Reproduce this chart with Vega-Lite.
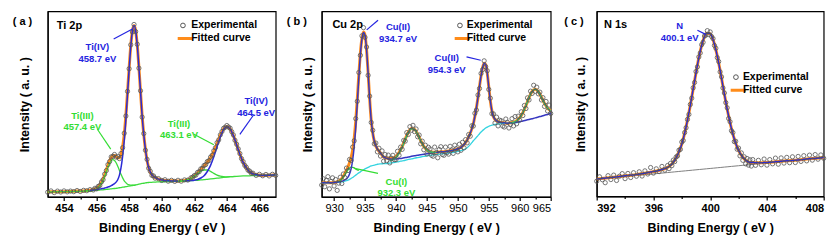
{
"$schema": "https://vega.github.io/schema/vega-lite/v6.json",
"padding": {"left": 11.7, "top": 10.4, "right": 0, "bottom": 0},
"autosize": {"type": "pad"},
"bounds": "flush",
"spacing": 46,
"resolve": {"scale": {"color": "independent"}, "legend": {"color": "independent"}},
"config": {
 "font": "Liberation Sans",
 "view": {"stroke": "#000", "strokeWidth": 1.2},
 "axis": {"grid": false, "domainColor": "#000", "domainWidth": 1.2, "tickColor": "#000", "tickWidth": 1.2, "labelFont": "Liberation Sans", "labelFontWeight": "bold", "labelFontSize": 11, "labelColor": "#000", "titleFont": "Liberation Sans", "titleFontWeight": "bold", "titleFontSize": 12.5, "titleColor": "#000"},
 "legend": {"labelFont": "Liberation Sans", "labelFontWeight": "bold", "labelFontSize": 10.5, "labelColor": "#000", "symbolSize": 400, "clipHeight": 12.7, "rowPadding": 0, "padding": 0},
 "line": {"interpolate": "monotone"},
 "text": {"font": "Liberation Sans", "fontWeight": "bold"}
},
"datasets": {
 "a": [
  {"x":453.0,"f":3.4,"b":3.4},{"x":453.2,"f":3.4,"b":3.4},{"x":453.4,"f":3.4,"b":3.4},{"x":453.6,"f":3.5,"b":3.5},{"x":453.8,"f":3.5,"b":3.5},{"x":454.0,"f":3.5,"b":3.5},{"x":454.2,"f":3.6,"b":3.5},{"x":454.4,"f":3.6,"b":3.6},{"x":454.6,"f":3.7,"b":3.6},{"x":454.8,"f":3.8,"b":3.7},{"x":455.0,"f":3.8,"b":3.7},
  {"x":455.2,"f":3.9,"b":3.8,"g1":3.8},{"x":455.4,"f":4.1,"b":3.9,"g1":3.9},
  {"x":455.6,"f":4.3,"b":4.0,"g1":4.05,"u1":4.25},{"x":455.7,"f":4.4,"b":4.0,"g1":4.1,"u1":4.3},{"x":455.8,"f":4.6,"b":4.1,"g1":4.3,"u1":4.4},{"x":455.9,"f":5.0,"b":4.2,"g1":4.6,"u1":4.55},{"x":456.0,"f":5.3,"b":4.2,"g1":4.9,"u1":4.6},{"x":456.1,"f":6.0,"b":4.3,"g1":5.5,"u1":4.75},{"x":456.2,"f":7.0,"b":4.4,"g1":6.5,"u1":4.9},{"x":456.3,"f":8.4,"b":4.5,"g1":7.8,"u1":5.1},{"x":456.4,"f":10.2,"b":4.5,"g1":9.5,"u1":5.2},{"x":456.5,"f":12.6,"b":4.6,"g1":11.7,"u1":5.45},{"x":456.6,"f":15.1,"b":4.7,"g1":14.1,"u1":5.7},{"x":456.7,"f":17.7,"b":4.8,"g1":16.5,"u1":6.0},{"x":456.8,"f":20.0,"b":4.9,"g1":18.6,"u1":6.3},{"x":456.9,"f":21.7,"b":5.0,"g1":20.0,"u1":6.7},{"x":457.0,"f":22.7,"b":5.1,"g1":20.6,"u1":7.2},{"x":457.1,"f":22.8,"b":5.2,"g1":20.2,"u1":7.8},{"x":457.2,"f":22.3,"b":5.3,"g1":19.0,"u1":8.6},{"x":457.3,"f":21.6,"b":5.4,"g1":17.1,"u1":9.9},{"x":457.4,"f":21.6,"b":5.6,"g1":15.0,"u1":12.2},{"x":457.5,"f":23.3,"b":5.7,"g1":12.8,"u1":16.2},{"x":457.6,"f":27.4,"b":5.9,"g1":10.9,"u1":22.4},{"x":457.7,"f":34.1,"b":6.0,"g1":9.3,"u1":30.8},{"x":457.8,"f":44.3,"b":6.2,"g1":8.3,"u1":42.2},{"x":457.9,"f":56.7,"b":6.3,"g1":7.5,"u1":55.5},{"x":458.0,"f":69.8,"b":6.5,"g1":7.2,"u1":69.1},{"x":458.1,"f":81.5,"b":6.6,"g1":7.0,"u1":81.1},{"x":458.2,"f":89.6,"b":6.8,"g1":7.0,"u1":89.4},{"x":458.3,"f":92.4,"b":6.9,"g1":6.95,"u1":92.4},{"x":458.4,"f":89.7,"b":7.1,"g1":7.1,"u1":89.7},{"x":458.5,"f":81.8,"b":7.3,"u1":81.8},{"x":458.6,"f":70.1,"b":7.5,"u1":70.1},{"x":458.7,"f":56.9,"b":7.7,"u1":56.9},{"x":458.8,"f":43.9,"b":7.9,"u1":43.9},{"x":458.9,"f":34.0,"b":8.0,"u1":34.0},{"x":459.0,"f":26.2,"b":8.2,"u1":26.2},{"x":459.1,"f":20.3,"b":8.3,"u1":20.3},{"x":459.2,"f":16.4,"b":8.4,"u1":16.4},{"x":459.3,"f":14.0,"b":8.5,"u1":14.0},{"x":459.4,"f":12.5,"b":8.5,"u1":12.5},{"x":459.5,"f":11.6,"b":8.6,"u1":11.6},{"x":459.6,"f":11.0,"b":8.6,"u1":11.0},{"x":459.7,"f":10.6,"b":8.7,"u1":10.6},{"x":459.8,"f":10.2,"b":8.7,"u1":10.2},
  {"x":460.0,"f":9.8,"b":8.8,"u1":9.8},{"x":460.2,"f":9.5,"b":8.8,"u1":9.5},{"x":460.4,"f":9.4,"b":8.9,"u1":9.4},{"x":460.6,"f":9.3,"b":8.9,"u1":9.25},{"x":460.8,"f":9.3,"b":9.0,"u1":9.25},{"x":461.0,"f":9.2,"b":9.0,"u1":9.2,"g2":9.0},{"x":461.2,"f":9.3,"b":9.1,"g2":9.2},{"x":461.4,"f":9.5,"b":9.2,"g2":9.4,"u2":9.2},{"x":461.6,"f":9.9,"b":9.3,"g2":9.9,"u2":9.3},{"x":461.8,"f":10.7,"b":9.4,"g2":10.6,"u2":9.45},{"x":462.0,"f":11.9,"b":9.5,"g2":11.7,"u2":9.65},{"x":462.2,"f":13.5,"b":9.6,"g2":13.1,"u2":10.0},{"x":462.4,"f":15.4,"b":9.8,"g2":14.4,"u2":10.8},{"x":462.6,"f":17.2,"b":9.9,"g2":15.1,"u2":12.0},{"x":462.8,"f":19.3,"b":10.1,"g2":15.1,"u2":14.3},{"x":463.0,"f":21.7,"b":10.3,"g2":14.4,"u2":17.6},{"x":463.2,"f":25.0,"b":10.5,"g2":13.3,"u2":22.2},{"x":463.4,"f":29.3,"b":10.7,"g2":12.4,"u2":27.6},{"x":463.6,"f":33.7,"b":10.9,"g2":11.8,"u2":32.8},{"x":463.8,"f":37.1,"b":11.1,"g2":11.5,"u2":36.7},{"x":464.0,"f":38.4,"b":11.3,"g2":11.4,"u2":38.3},{"x":464.2,"f":37.1,"b":11.5,"g2":11.5,"u2":37.1},{"x":464.4,"f":33.5,"b":11.6,"g2":11.6,"u2":33.5},{"x":464.6,"f":28.6,"b":11.7,"u2":28.6},{"x":464.8,"f":23.5,"b":11.8,"u2":23.5},{"x":465.0,"f":19.2,"b":11.9,"u2":19.2},{"x":465.2,"f":16.2,"b":12.0,"u2":16.2},{"x":465.4,"f":14.1,"b":12.0,"u2":14.1},{"x":465.6,"f":13.1,"b":12.1,"u2":13.1},{"x":465.8,"f":12.5,"b":12.1,"u2":12.5},{"x":466.0,"f":12.4,"b":12.2,"u2":12.35},{"x":466.2,"f":12.2,"b":12.2,"u2":12.2},{"x":466.4,"f":12.3,"b":12.3,"u2":12.3},{"x":466.6,"f":12.3,"b":12.3,"u2":12.3},{"x":466.8,"f":12.4,"b":12.4,"u2":12.4},{"x":467.0,"f":12.4,"b":12.4,"u2":12.4}
 ],
 "ae": [
  {"x":453.0,"y":3.2},{"x":453.2,"y":3.9},{"x":453.4,"y":3.0},{"x":453.6,"y":3.8},{"x":453.8,"y":3.3},{"x":454.0,"y":3.9},{"x":454.2,"y":3.4},{"x":454.4,"y":3.8},{"x":454.6,"y":3.5},{"x":454.8,"y":4.1},{"x":455.0,"y":3.6},{"x":455.2,"y":4.2},{"x":455.4,"y":4.0},{"x":455.6,"y":4.6},{"x":455.8,"y":4.4},{"x":455.9,"y":5.3},{"x":456.0,"y":5.0},{"x":456.1,"y":6.3},{"x":456.2,"y":6.8},{"x":456.3,"y":8.7},{"x":456.4,"y":9.9},{"x":456.5,"y":12.9},{"x":456.6,"y":14.8},{"x":456.7,"y":18.0},{"x":456.8,"y":19.6},{"x":456.9,"y":22.1},{"x":457.0,"y":22.4},{"x":457.1,"y":23.4},{"x":457.2,"y":22.0},{"x":457.3,"y":22.3},{"x":457.4,"y":21.2},{"x":457.5,"y":23.9},{"x":457.6,"y":27.0},{"x":457.7,"y":34.8},{"x":457.8,"y":44.0},{"x":457.9,"y":57.2},{"x":458.0,"y":69.3},{"x":458.1,"y":82.1},{"x":458.2,"y":89.0},{"x":458.3,"y":93.0},{"x":458.4,"y":89.2},{"x":458.5,"y":82.4},{"x":458.6,"y":69.6},{"x":458.7,"y":57.5},{"x":458.8,"y":43.4},{"x":458.9,"y":34.6},{"x":459.0,"y":25.7},{"x":459.1,"y":20.8},{"x":459.2,"y":16.0},{"x":459.3,"y":14.4},{"x":459.4,"y":12.2},{"x":459.5,"y":11.9},{"x":459.6,"y":10.7},{"x":459.8,"y":10.5},{"x":460.0,"y":9.5},{"x":460.2,"y":9.9},{"x":460.4,"y":9.1},{"x":460.6,"y":9.6},{"x":460.8,"y":9.0},{"x":461.0,"y":9.6},{"x":461.2,"y":9.1},{"x":461.4,"y":9.8},{"x":461.6,"y":9.7},{"x":461.8,"y":10.9},{"x":461.9,"y":11.2},{"x":462.0,"y":12.1},{"x":462.1,"y":12.4},{"x":462.2,"y":13.8},{"x":462.3,"y":14.2},{"x":462.4,"y":15.7},{"x":462.5,"y":16.0},{"x":462.6,"y":17.5},{"x":462.7,"y":18.0},{"x":462.8,"y":19.6},{"x":462.9,"y":20.1},{"x":463.0,"y":22.0},{"x":463.1,"y":23.0},{"x":463.2,"y":25.4},{"x":463.3,"y":27.0},{"x":463.4,"y":29.7},{"x":463.5,"y":31.2},{"x":463.6,"y":33.9},{"x":463.7,"y":35.7},{"x":463.8,"y":37.4},{"x":463.9,"y":38.0},{"x":464.0,"y":38.9},{"x":464.1,"y":38.1},{"x":464.2,"y":37.5},{"x":464.3,"y":35.6},{"x":464.4,"y":33.9},{"x":464.5,"y":31.0},{"x":464.6,"y":28.9},{"x":464.7,"y":26.4},{"x":464.8,"y":23.9},{"x":464.9,"y":21.2},{"x":465.0,"y":19.6},{"x":465.1,"y":17.6},{"x":465.2,"y":16.5},{"x":465.3,"y":15.0},{"x":465.4,"y":14.5},{"x":465.5,"y":13.4},{"x":465.6,"y":13.4},{"x":465.8,"y":12.2},{"x":466.0,"y":12.8},{"x":466.2,"y":12.0},{"x":466.4,"y":12.7},{"x":466.6,"y":11.9},{"x":466.8,"y":12.8},{"x":467.0,"y":12.2}
 ],
 "b": [
  {"x":928.0,"f":10.2,"u":10.2,"c":10.2},{"x":928.5,"f":10.2,"u":10.2,"c":10.2},{"x":929.0,"f":10.2,"u":10.2,"c":10.2},{"x":929.5,"f":10.25,"u":10.25,"c":10.25},{"x":930.0,"f":10.3,"u":10.3,"c":10.3},{"x":930.5,"f":10.8,"u":10.5,"c":10.4,"g":10.7},{"x":931.0,"f":11.6,"u":10.8,"c":10.5,"g":11.3},{"x":931.5,"f":13.6,"u":11.3,"c":10.8,"g":13.1},{"x":932.0,"f":16.8,"u":12.3,"c":11.3,"g":15.8},{"x":932.25,"f":18.6,"u":13.2,"c":11.6,"g":17.0},{"x":932.5,"f":20.75,"u":14.8,"c":12.0,"g":17.95},{"x":932.75,"f":23.4,"u":17.5,"c":12.5,"g":18.4},{"x":933.0,"f":27.3,"u":22.0,"c":13.0,"g":18.3},{"x":933.25,"f":33.5,"u":29.1,"c":13.6,"g":18.0},{"x":933.5,"f":42.4,"u":39.2,"c":14.2,"g":17.4},{"x":933.75,"f":54.0,"u":51.8,"c":14.8,"g":17.0},{"x":934.0,"f":66.7,"u":65.4,"c":15.4,"g":16.7},{"x":934.25,"f":78.2,"u":77.4,"c":15.9},{"x":934.5,"f":85.8,"u":85.5,"c":16.5,"g":16.8},{"x":934.75,"f":89.2,"u":89.0,"c":17.0},{"x":935.0,"f":87.6,"u":87.5,"c":17.5,"g":17.6},{"x":935.25,"f":79.9,"u":79.9,"c":17.9},{"x":935.5,"f":67.8,"u":67.8,"c":18.3},{"x":935.75,"f":54.2,"u":54.2,"c":18.7},{"x":936.0,"f":43.0,"u":43.0,"c":19.0},{"x":936.25,"f":36.3,"u":36.3,"c":19.25},{"x":936.5,"f":32.0,"u":32.0,"c":19.5},{"x":936.75,"f":29.5,"u":29.5,"c":19.7},{"x":937.0,"f":27.9,"u":27.9,"c":19.9},{"x":937.5,"f":25.8,"u":25.8,"c":20.1},{"x":938.0,"f":23.7,"u":23.7,"c":20.2},{"x":938.5,"f":23.15,"u":23.05,"c":20.3},{"x":939.0,"f":22.9,"u":22.6,"c":20.5,"s":21.7},{"x":939.5,"f":23.05,"u":22.55,"c":20.7,"s":22.25},{"x":940.0,"f":24.0,"u":22.6,"c":21.0,"s":23.5},{"x":940.5,"f":26.05,"u":22.85,"c":21.3,"s":25.65},{"x":941.0,"f":29.1,"u":23.1,"c":21.7,"s":28.8},{"x":941.5,"f":33.1,"u":23.4,"c":22.0,"s":32.85},{"x":942.0,"f":36.7,"u":23.7,"c":22.4,"s":36.5},{"x":942.5,"f":38.7,"u":24.05,"c":22.7,"s":38.5},{"x":943.0,"f":38.25,"u":24.35,"c":23.1,"s":38.1},{"x":943.5,"f":35.7,"u":24.6,"c":23.4,"s":35.6},{"x":944.0,"f":32.3,"u":24.9,"c":23.7,"s":32.2},{"x":944.5,"f":29.3,"u":25.1,"c":24.0,"s":29.3},{"x":945.0,"f":27.4,"u":25.4,"c":24.3,"s":27.4},{"x":945.5,"f":26.45,"u":25.65,"c":24.5,"s":26.45},{"x":946.0,"f":26.2,"u":25.9,"c":24.8,"s":26.2},{"x":946.5,"f":26.2,"u":26.1,"c":25.0,"s":26.2},{"x":947.0,"f":26.3,"u":26.3,"c":25.2},{"x":947.5,"f":26.45,"u":26.45,"c":25.4},{"x":948.0,"f":26.6,"u":26.6,"c":25.6},{"x":948.5,"f":26.9,"u":26.85,"c":25.8},{"x":949.0,"f":27.1,"u":27.1,"c":26.0},{"x":949.5,"f":27.5,"u":27.5,"c":26.3},{"x":950.0,"f":28.0,"u":28.0,"c":26.6},{"x":950.5,"f":28.8,"u":28.8,"c":27.0},{"x":951.0,"f":30.2,"u":30.2,"c":27.6},{"x":951.5,"f":32.6,"u":32.6,"c":28.6},{"x":952.0,"f":36.1,"u":36.1,"c":30.2},{"x":952.25,"f":38.45,"u":38.45,"c":31.2},{"x":952.5,"f":41.1,"u":41.1,"c":32.2},{"x":952.75,"f":45.05,"u":45.05,"c":33.1},{"x":953.0,"f":49.5,"u":49.5,"c":34.0},{"x":953.25,"f":54.9,"u":54.9,"c":34.9},{"x":953.5,"f":60.8,"u":60.8,"c":35.9},{"x":953.75,"f":66.3,"u":66.3,"c":36.8},{"x":954.0,"f":70.6,"u":70.6,"c":37.6},{"x":954.25,"f":72.85,"u":72.85,"c":38.25},{"x":954.5,"f":72.1,"u":72.1,"c":38.9},{"x":954.75,"f":67.65,"u":67.65,"c":39.35},{"x":955.0,"f":60.3,"u":60.3,"c":39.8},{"x":955.25,"f":53.1,"u":53.1,"c":40.1},{"x":955.5,"f":47.9,"u":47.9,"c":40.4},{"x":955.75,"f":44.8,"u":44.8,"c":40.6},{"x":956.0,"f":43.4,"u":43.4,"c":40.8},{"x":956.5,"f":42.2,"u":42.2,"c":41.0},{"x":957.0,"f":41.8,"u":41.8,"c":41.2},{"x":957.5,"f":41.6,"u":41.6,"c":41.3},{"x":958.0,"f":41.4,"u":41.4,"c":41.4},{"x":958.5,"f":41.6,"u":41.5,"c":41.5,"s":41.6},{"x":959.0,"f":41.9,"u":41.6,"c":41.6,"s":41.9},{"x":959.5,"f":42.7,"u":41.9,"c":41.7,"s":42.7},{"x":960.0,"f":44.3,"u":42.3,"c":41.8,"s":44.3},{"x":960.5,"f":46.9,"u":42.6,"s":46.9},{"x":961.0,"f":50.6,"u":43.0,"s":50.6},{"x":961.5,"f":54.8,"u":43.4,"s":54.8},{"x":962.0,"f":58.1,"u":43.8,"s":58.1},{"x":962.5,"f":59.25,"u":44.2,"s":59.25},{"x":963.0,"f":58.0,"u":44.7,"s":58.0},{"x":963.5,"f":55.0,"u":45.1,"s":55.0},{"x":964.0,"f":51.8,"u":45.6,"s":51.8},{"x":964.5,"f":49.3,"u":46.0,"s":49.3},{"x":965.0,"f":47.95,"u":46.5,"s":47.95}
 ],
 "be": [
  {"x":928.0,"y":9.0},{"x":928.25,"y":12.3},{"x":928.5,"y":8.1},{"x":928.75,"y":11.5},{"x":929.0,"y":13.4},{"x":929.25,"y":7.0},{"x":929.5,"y":10.9},{"x":929.75,"y":12.8},{"x":930.0,"y":8.5},{"x":930.25,"y":11.9},{"x":930.5,"y":6.2},{"x":930.75,"y":10.0},{"x":931.0,"y":13.1},{"x":931.25,"y":9.8},{"x":931.5,"y":14.8},{"x":931.75,"y":12.9},{"x":932.0,"y":17.9},{"x":932.25,"y":16.6},{"x":932.5,"y":22.4},{"x":932.75,"y":21.9},{"x":933.0,"y":28.9},{"x":933.25,"y":32.2},{"x":933.5,"y":43.8},{"x":933.75,"y":52.9},{"x":934.0,"y":68.0},{"x":934.25,"y":77.0},{"x":934.5,"y":87.2},{"x":934.75,"y":91.5},{"x":935.0,"y":86.4},{"x":935.25,"y":81.3},{"x":935.5,"y":66.5},{"x":935.75,"y":55.6},{"x":936.0,"y":41.8},{"x":936.25,"y":37.7},{"x":936.5,"y":30.6},{"x":936.75,"y":31.0},{"x":937.0,"y":26.4},{"x":937.25,"y":28.3},{"x":937.5,"y":24.2},{"x":937.75,"y":26.9},{"x":938.0,"y":21.5},{"x":938.25,"y":25.0},{"x":938.5,"y":21.8},{"x":938.75,"y":24.7},{"x":939.0,"y":20.6},{"x":939.25,"y":23.1},{"x":939.5,"y":24.6},{"x":939.75,"y":22.3},{"x":940.0,"y":22.3},{"x":940.25,"y":26.7},{"x":940.5,"y":24.6},{"x":940.75,"y":28.9},{"x":941.0,"y":27.7},{"x":941.25,"y":32.4},{"x":941.5,"y":32.0},{"x":941.75,"y":36.5},{"x":942.0,"y":35.5},{"x":942.25,"y":39.6},{"x":942.5,"y":37.7},{"x":942.75,"y":40.3},{"x":943.0,"y":37.0},{"x":943.25,"y":38.4},{"x":943.5,"y":34.3},{"x":943.75,"y":35.2},{"x":944.0,"y":30.6},{"x":944.25,"y":32.0},{"x":944.5,"y":27.5},{"x":944.75,"y":29.9},{"x":945.0,"y":25.3},{"x":945.25,"y":28.8},{"x":945.5,"y":27.9},{"x":945.75,"y":24.6},{"x":946.0,"y":24.1},{"x":946.25,"y":28.9},{"x":946.5,"y":26.0},{"x":946.75,"y":23.3},{"x":947.0,"y":27.6},{"x":947.25,"y":29.1},{"x":947.5,"y":25.0},{"x":947.75,"y":24.6},{"x":948.0,"y":28.9},{"x":948.25,"y":26.0},{"x":948.5,"y":25.2},{"x":948.75,"y":29.3},{"x":949.0,"y":27.4},{"x":949.25,"y":25.6},{"x":949.5,"y":29.9},{"x":949.75,"y":28.0},{"x":950.0,"y":26.4},{"x":950.25,"y":30.4},{"x":950.5,"y":27.2},{"x":950.75,"y":31.4},{"x":951.0,"y":28.5},{"x":951.25,"y":32.8},{"x":951.5,"y":31.1},{"x":951.75,"y":35.5},{"x":952.0,"y":34.6},{"x":952.25,"y":40.1},{"x":952.5,"y":39.9},{"x":952.75,"y":46.6},{"x":953.0,"y":48.3},{"x":953.25,"y":56.2},{"x":953.5,"y":59.6},{"x":953.75,"y":67.5},{"x":954.0,"y":69.5},{"x":954.25,"y":74.1},{"x":954.5,"y":71.0},{"x":954.75,"y":68.9},{"x":955.0,"y":59.1},{"x":955.25,"y":54.5},{"x":955.5,"y":46.4},{"x":955.75,"y":46.3},{"x":956.0,"y":41.5},{"x":956.25,"y":44.6},{"x":956.5,"y":40.0},{"x":956.75,"y":43.0},{"x":957.0,"y":42.7},{"x":957.25,"y":39.9},{"x":957.5,"y":39.4},{"x":957.75,"y":43.6},{"x":958.0,"y":41.9},{"x":958.25,"y":38.9},{"x":958.5,"y":40.8},{"x":958.75,"y":43.8},{"x":959.0,"y":40.0},{"x":959.25,"y":44.9},{"x":959.5,"y":41.1},{"x":959.75,"y":45.1},{"x":960.0,"y":43.0},{"x":960.25,"y":47.4},{"x":960.5,"y":45.4},{"x":960.75,"y":50.7},{"x":961.0,"y":49.1},{"x":961.25,"y":54.7},{"x":961.5,"y":53.6},{"x":961.75,"y":58.2},{"x":962.0,"y":57.0},{"x":962.25,"y":61.3},{"x":962.5,"y":58.1},{"x":962.75,"y":60.3},{"x":963.0,"y":56.8},{"x":963.25,"y":57.7},{"x":963.5,"y":53.6},{"x":963.75,"y":54.8},{"x":964.0,"y":50.2},{"x":964.25,"y":52.8},{"x":964.5,"y":47.8},{"x":964.75,"y":50.9},{"x":965.0,"y":46.5}
 ],
 "c": [
  {"x":392,"f":9.4,"b":9.2},{"x":392.5,"f":9.8,"b":9.57},{"x":393,"f":10.2,"b":9.94},{"x":393.5,"f":10.6,"b":10.31},{"x":394,"f":11.1,"b":10.68},{"x":394.5,"f":11.5,"b":11.04},{"x":395,"f":12.1,"b":11.41},{"x":395.5,"f":12.7,"b":11.78},{"x":396,"f":13.4,"b":12.15},{"x":396.5,"f":14.3,"b":12.52},{"x":397,"f":15.7,"b":12.89},{"x":397.25,"f":17.1,"b":13.07},{"x":397.5,"f":19.5,"b":13.26},{"x":397.75,"f":23.2,"b":13.44},{"x":398,"f":28.3,"b":13.63},{"x":398.25,"f":35.8,"b":13.81},{"x":398.5,"f":45.2,"b":13.99},{"x":398.75,"f":55.8,"b":14.18},{"x":399,"f":66.8,"b":14.36},{"x":399.25,"f":76.8,"b":14.55},{"x":399.5,"f":84.3,"b":14.73},{"x":399.75,"f":88.2,"b":14.92},{"x":400,"f":88.0,"b":15.1},{"x":400.25,"f":83.6,"b":15.28},{"x":400.5,"f":75.9,"b":15.47},{"x":400.75,"f":66.0,"b":15.65},{"x":401,"f":55.3,"b":15.84},{"x":401.25,"f":45.2,"b":16.02},{"x":401.5,"f":36.6,"b":16.21},{"x":401.75,"f":29.8,"b":16.39},{"x":402,"f":24.9,"b":16.58},{"x":402.25,"f":21.7,"b":16.76},{"x":402.5,"f":19.6,"b":16.94},{"x":402.75,"f":18.5,"b":17.13},{"x":403,"f":18.3,"b":17.31},{"x":403.5,"f":18.2,"b":17.68},{"x":404,"f":18.35,"b":18.05},{"x":404.5,"f":18.6,"b":18.42},{"x":405,"f":18.95,"b":18.79},{"x":405.5,"f":19.3,"b":19.16},{"x":406,"f":19.6,"b":19.53},{"x":406.5,"f":19.95,"b":19.9},{"x":407,"f":20.3,"b":20.26},{"x":407.5,"f":20.65,"b":20.63},{"x":408,"f":21.0,"b":21.0}
 ],
 "ce": [
  {"x":392.0,"y":8.2},{"x":392.2,"y":10.6},{"x":392.4,"y":9.0},{"x":392.6,"y":7.4},{"x":392.8,"y":11.2},{"x":393.0,"y":9.1},{"x":393.2,"y":11.5},{"x":393.4,"y":8.6},{"x":393.6,"y":10.9},{"x":393.8,"y":12.3},{"x":394.0,"y":9.6},{"x":394.2,"y":12.4},{"x":394.4,"y":10.2},{"x":394.6,"y":12.8},{"x":394.8,"y":10.9},{"x":395.0,"y":13.3},{"x":395.2,"y":11.0},{"x":395.4,"y":13.8},{"x":395.6,"y":12.1},{"x":395.8,"y":15.6},{"x":396.0,"y":12.6},{"x":396.2,"y":14.9},{"x":396.4,"y":13.4},{"x":396.6,"y":16.2},{"x":396.8,"y":14.2},{"x":397.0,"y":16.7},{"x":397.1,"y":15.0},{"x":397.2,"y":17.8},{"x":397.3,"y":16.6},{"x":397.4,"y":19.6},{"x":397.5,"y":18.8},{"x":397.6,"y":21.3},{"x":397.7,"y":21.9},{"x":397.8,"y":25.0},{"x":397.9,"y":25.4},{"x":398.0,"y":29.4},{"x":398.1,"y":30.2},{"x":398.2,"y":34.5},{"x":398.3,"y":37.1},{"x":398.4,"y":41.6},{"x":398.5,"y":44.3},{"x":398.6,"y":49.7},{"x":398.7,"y":53.1},{"x":398.8,"y":58.7},{"x":398.9,"y":61.6},{"x":399.0,"y":67.5},{"x":399.1,"y":70.0},{"x":399.2,"y":75.4},{"x":399.3,"y":77.5},{"x":399.4,"y":82.0},{"x":399.5,"y":83.3},{"x":399.6,"y":86.7},{"x":399.7,"y":87.2},{"x":399.8,"y":89.6},{"x":399.9,"y":87.5},{"x":400.0,"y":88.9},{"x":400.1,"y":86.4},{"x":400.2,"y":85.3},{"x":400.3,"y":81.6},{"x":400.4,"y":80.1},{"x":400.5,"y":75.0},{"x":400.6,"y":72.9},{"x":400.7,"y":67.3},{"x":400.8,"y":64.6},{"x":400.9,"y":58.6},{"x":401.0,"y":55.9},{"x":401.1,"y":50.7},{"x":401.2,"y":47.9},{"x":401.3,"y":42.1},{"x":401.4,"y":40.4},{"x":401.5,"y":35.5},{"x":401.6,"y":34.5},{"x":401.7,"y":29.6},{"x":401.8,"y":29.8},{"x":401.9,"y":25.5},{"x":402.0,"y":26.1},{"x":402.1,"y":21.9},{"x":402.2,"y":23.5},{"x":402.3,"y":19.5},{"x":402.4,"y":21.4},{"x":402.5,"y":17.6},{"x":402.6,"y":20.5},{"x":402.7,"y":16.9},{"x":402.8,"y":19.8},{"x":402.9,"y":16.4},{"x":403.0,"y":19.9},{"x":403.2,"y":16.8},{"x":403.4,"y":19.5},{"x":403.6,"y":17.1},{"x":403.8,"y":20.2},{"x":404.0,"y":16.9},{"x":404.2,"y":19.9},{"x":404.4,"y":17.6},{"x":404.6,"y":20.7},{"x":404.8,"y":17.4},{"x":405.0,"y":20.8},{"x":405.2,"y":18.0},{"x":405.4,"y":21.1},{"x":405.6,"y":18.2},{"x":405.8,"y":21.4},{"x":406.0,"y":18.3},{"x":406.2,"y":21.6},{"x":406.4,"y":18.9},{"x":406.6,"y":22.0},{"x":406.8,"y":19.2},{"x":407.0,"y":22.3},{"x":407.2,"y":19.6},{"x":407.4,"y":22.6},{"x":407.6,"y":20.1},{"x":407.8,"y":22.4},{"x":408.0,"y":20.6}
 ]
},
"hconcat": [
 {
  "width": 228, "height": 185.5,
  "title": {"text": "( a )", "anchor": "start", "frame": "group", "offset": 0, "dx": -35, "dy": 21.8, "baseline": "middle", "fontSize": 11, "fontWeight": "bold", "font": "Liberation Sans", "color": "#000"},
  "resolve": {"axis": {"x": "independent"}},
  "layer": [
   {"data": {"name": "a"}, "mark": {"type": "line", "strokeWidth": 3},
    "encoding": {
     "x": {"field": "x", "type": "quantitative", "scale": {"domain": [453, 467], "nice": false, "zero": false}, "axis": {"orient": "bottom", "title": "Binding Energy ( eV )", "values": [454, 456, 458, 460, 462, 464, 466], "format": "d", "tickSize": 3.5, "labelPadding": 2.5, "titlePadding": 8, "labelOverlap": false}},
     "y": {"field": "f", "type": "quantitative", "scale": {"domain": [0.7, 100], "nice": false, "zero": false}, "axis": {"title": "Intensity ( a. u. )", "labels": false, "ticks": false, "titlePadding": 16}},
     "color": {"datum": "Fitted curve", "type": "nominal", "scale": {"domain": ["Experimental", "Fitted curve"], "range": ["#555555", "#ff8c1a"]},
      "legend": {"title": null, "orient": "none", "legendX": 130, "legendY": 7.7, "labelOffset": 3,
       "encode": {"symbols": {"update": {"shape": {"signal": "datum.value === 'Experimental' ? 'circle' : 'stroke'"}, "size": {"signal": "datum.value === 'Experimental' ? 22 : 400"}, "stroke": {"signal": "datum.value === 'Experimental' ? '#555555' : '#ff8c1a'"}, "strokeWidth": {"signal": "datum.value === 'Experimental' ? 1 : 3"}, "fill": {"value": "transparent"}, "opacity": {"value": 1}}}}}}
    }},
   {"data": {"name": "a"}, "mark": {"type": "line", "color": "#3ddc3d", "strokeWidth": 1.3},
    "encoding": {"x": {"field": "x", "type": "quantitative", "axis": {"orient": "bottom", "values": [455, 457, 459, 461, 463, 465], "labels": false, "title": null, "tickSize": 2, "domain": false}}, "y": {"field": "b", "type": "quantitative"}}},
   {"data": {"name": "a"}, "mark": {"type": "line", "color": "#3ddc3d", "strokeWidth": 1.3},
    "encoding": {"x": {"field": "x", "type": "quantitative", "axis": null}, "y": {"field": "g1", "type": "quantitative"}}},
   {"data": {"name": "a"}, "mark": {"type": "line", "color": "#3ddc3d", "strokeWidth": 1.3},
    "encoding": {"x": {"field": "x", "type": "quantitative", "axis": null}, "y": {"field": "g2", "type": "quantitative"}}},
   {"data": {"name": "a"}, "mark": {"type": "line", "color": "#2b2bd6", "strokeWidth": 1.5},
    "encoding": {"x": {"field": "x", "type": "quantitative", "axis": null}, "y": {"field": "u1", "type": "quantitative"}}},
   {"data": {"name": "a"}, "mark": {"type": "line", "color": "#2b2bd6", "strokeWidth": 1.5},
    "encoding": {"x": {"field": "x", "type": "quantitative", "axis": null}, "y": {"field": "u2", "type": "quantitative"}}},
   {"data": {"name": "ae"}, "mark": {"type": "point", "filled": false, "size": 18, "strokeWidth": 0.8, "opacity": 1},
    "encoding": {"x": {"field": "x", "type": "quantitative", "axis": null}, "y": {"field": "y", "type": "quantitative"}, "color": {"datum": "Experimental", "type": "nominal"}}},
   {"data": {"values": [{"x": 457.05, "y": 85.2, "x2": 458.2, "y2": 90.6}, {"x": 465.66, "y": 44.8, "x2": 464.8, "y2": 34.2}]}, "mark": {"type": "rule", "color": "#2424e0", "strokeWidth": 1.2},
    "encoding": {"x": {"field": "x", "type": "quantitative", "axis": null}, "y": {"field": "y", "type": "quantitative"}, "x2": {"field": "x2"}, "y2": {"field": "y2"}}},
   {"data": {"values": [{"x": 456.05, "y": 36.9, "x2": 456.87, "y2": 26.3}, {"x": 461.98, "y": 34.2, "x2": 463.2, "y2": 28.6}]}, "mark": {"type": "rule", "color": "#33dd33", "strokeWidth": 1.2},
    "encoding": {"x": {"field": "x", "type": "quantitative", "axis": null}, "y": {"field": "y", "type": "quantitative"}, "x2": {"field": "x2"}, "y2": {"field": "y2"}}},
   {"data": {"values": [{"x": 456.05, "y": 81.2, "t": "Ti(IV)\n458.7 eV"}, {"x": 465.8, "y": 51.9, "t": "Ti(IV)\n464.5 eV"}]}, "mark": {"type": "text", "color": "#2424e0", "fontSize": 9.5, "lineBreak": "\n", "lineHeight": 12, "align": "center", "baseline": "middle"},
    "encoding": {"x": {"field": "x", "type": "quantitative", "axis": null}, "y": {"field": "y", "type": "quantitative"}, "text": {"field": "t"}}},
   {"data": {"values": [{"x": 455.13, "y": 44.2, "t": "Ti(III)\n457.4 eV"}, {"x": 461.06, "y": 39.8, "t": "Ti(III)\n463.1 eV"}]}, "mark": {"type": "text", "color": "#33dd33", "fontSize": 9.5, "lineBreak": "\n", "lineHeight": 11.5, "align": "center", "baseline": "middle"},
    "encoding": {"x": {"field": "x", "type": "quantitative", "axis": null}, "y": {"field": "y", "type": "quantitative"}, "text": {"field": "t"}}},
   {"data": {"values": [{"x": 453.55, "y": 92.2, "t": "Ti 2p"}]}, "mark": {"type": "text", "color": "#000", "fontSize": 11, "align": "left", "baseline": "middle"},
    "encoding": {"x": {"field": "x", "type": "quantitative", "axis": null}, "y": {"field": "y", "type": "quantitative"}, "text": {"field": "t"}}}
  ]
 },
 {
  "width": 229, "height": 185.5,
  "title": {"text": "( b )", "anchor": "start", "frame": "group", "offset": 0, "dx": -35, "dy": 21.2, "baseline": "middle", "fontSize": 11, "fontWeight": "bold", "font": "Liberation Sans", "color": "#000"},
  "resolve": {"axis": {"x": "independent"}},
  "layer": [
   {"data": {"name": "b"}, "mark": {"type": "line", "strokeWidth": 3},
    "encoding": {
     "x": {"field": "x", "type": "quantitative", "scale": {"domain": [928, 965], "nice": false, "zero": false}, "axis": {"orient": "bottom", "title": "Binding Energy ( eV )", "values": [930, 935, 940, 945, 950, 955, 960, 965], "format": "d", "tickSize": 3.5, "labelPadding": 2.5, "titlePadding": 8, "labelOverlap": false, "labelFontWeight": "normal"}},
     "y": {"field": "f", "type": "quantitative", "scale": {"domain": [2.8, 100], "nice": false, "zero": false}, "axis": {"title": "Intensity ( a. u. )", "labels": false, "ticks": false, "titlePadding": 7}},
     "color": {"datum": "Fitted curve", "type": "nominal", "scale": {"domain": ["Experimental", "Fitted curve"], "range": ["#555555", "#ff8c1a"]},
      "legend": {"title": null, "orient": "none", "legendX": 133, "legendY": 7.7, "labelOffset": 1.5,
       "encode": {"symbols": {"update": {"shape": {"signal": "datum.value === 'Experimental' ? 'circle' : 'stroke'"}, "size": {"signal": "datum.value === 'Experimental' ? 22 : 400"}, "stroke": {"signal": "datum.value === 'Experimental' ? '#555555' : '#ff8c1a'"}, "strokeWidth": {"signal": "datum.value === 'Experimental' ? 1 : 3"}, "fill": {"value": "transparent"}, "opacity": {"value": 1}}}}}}
    }},
   {"data": {"name": "b"}, "mark": {"type": "line", "color": "#35d4e0", "strokeWidth": 1.3},
    "encoding": {"x": {"field": "x", "type": "quantitative", "axis": {"orient": "bottom", "values": [932.5, 937.5, 942.5, 947.5, 952.5, 957.5, 962.5], "labels": false, "title": null, "tickSize": 2, "domain": false}}, "y": {"field": "c", "type": "quantitative"}}},
   {"data": {"name": "b"}, "mark": {"type": "line", "color": "#33cc33", "strokeWidth": 1.3},
    "encoding": {"x": {"field": "x", "type": "quantitative", "axis": null}, "y": {"field": "g", "type": "quantitative"}}},
   {"data": {"name": "b"}, "mark": {"type": "line", "color": "#3636c0", "strokeWidth": 1.5},
    "encoding": {"x": {"field": "x", "type": "quantitative", "axis": null}, "y": {"field": "u", "type": "quantitative"}}},
   {"data": {"name": "b"}, "mark": {"type": "line", "color": "#30b870", "strokeWidth": 1.5},
    "encoding": {"x": {"field": "x", "type": "quantitative", "axis": null}, "y": {"field": "s", "type": "quantitative"}}},
   {"data": {"name": "be"}, "mark": {"type": "point", "filled": false, "size": 18, "strokeWidth": 0.8, "opacity": 1},
    "encoding": {"x": {"field": "x", "type": "quantitative", "axis": null}, "y": {"field": "y", "type": "quantitative"}, "color": {"datum": "Experimental", "type": "nominal"}}},
   {"data": {"values": [{"x": 937.1, "y": 95.4, "x2": 935.27, "y2": 90.3}, {"x": 951.4, "y": 76.2, "x2": 953.7, "y2": 74.4}]}, "mark": {"type": "rule", "color": "#2424e0", "strokeWidth": 1.2},
    "encoding": {"x": {"field": "x", "type": "quantitative", "axis": null}, "y": {"field": "y", "type": "quantitative"}, "x2": {"field": "x2"}, "y2": {"field": "y2"}}},
   {"data": {"values": [{"x": 937.1, "y": 15.1, "x2": 933.3, "y2": 17.7}]}, "mark": {"type": "rule", "color": "#33dd33", "strokeWidth": 1.2},
    "encoding": {"x": {"field": "x", "type": "quantitative", "axis": null}, "y": {"field": "y", "type": "quantitative"}, "x2": {"field": "x2"}, "y2": {"field": "y2"}}},
   {"data": {"values": [{"x": 940.33, "y": 91.8, "t": "Cu(II)\n934.7 eV"}, {"x": 948.2, "y": 75.8, "t": "Cu(II)\n954.3 eV"}]}, "mark": {"type": "text", "color": "#2424e0", "fontSize": 9.5, "lineBreak": "\n", "lineHeight": 12, "align": "center", "baseline": "middle"},
    "encoding": {"x": {"field": "x", "type": "quantitative", "axis": null}, "y": {"field": "y", "type": "quantitative"}, "text": {"field": "t"}}},
   {"data": {"values": [{"x": 940.07, "y": 10.7, "t": "Cu(I)\n932.3 eV"}]}, "mark": {"type": "text", "color": "#33dd33", "fontSize": 9.5, "lineBreak": "\n", "lineHeight": 11.5, "align": "center", "baseline": "middle"},
    "encoding": {"x": {"field": "x", "type": "quantitative", "axis": null}, "y": {"field": "y", "type": "quantitative"}, "text": {"field": "t"}}},
   {"data": {"values": [{"x": 929.73, "y": 92.8, "t": "Cu 2p"}]}, "mark": {"type": "text", "color": "#000", "fontSize": 11, "align": "left", "baseline": "middle"},
    "encoding": {"x": {"field": "x", "type": "quantitative", "axis": null}, "y": {"field": "y", "type": "quantitative"}, "text": {"field": "t"}}}
  ]
 },
 {
  "width": 227, "height": 185,
  "title": {"text": "( c )", "anchor": "start", "frame": "group", "offset": 0, "dx": -32.5, "dy": 21.2, "baseline": "middle", "fontSize": 11, "fontWeight": "bold", "font": "Liberation Sans", "color": "#000"},
  "resolve": {"axis": {"x": "independent"}},
  "layer": [
   {"data": {"name": "c"}, "mark": {"type": "line", "color": "#808080", "strokeWidth": 1},
    "encoding": {
     "x": {"field": "x", "type": "quantitative", "scale": {"domain": [392, 408], "nice": false, "zero": false}, "axis": {"orient": "bottom", "title": "Binding Energy ( eV )", "values": [392, 396, 400, 404, 408], "format": "d", "tickSize": 3.5, "labelPadding": 2.5, "titlePadding": 8, "labelOverlap": false}},
     "y": {"field": "b", "type": "quantitative", "scale": {"domain": [0, 100], "nice": false, "zero": false}, "axis": {"title": "Intensity ( a. u. )", "labels": false, "ticks": false, "titlePadding": 9}}
    }},
   {"data": {"name": "c"}, "mark": {"type": "line", "strokeWidth": 3},
    "encoding": {"x": {"field": "x", "type": "quantitative", "axis": {"orient": "bottom", "values": [394, 398, 402, 406], "labels": false, "title": null, "tickSize": 2, "domain": false}}, "y": {"field": "f", "type": "quantitative"},
     "color": {"datum": "Fitted curve", "type": "nominal", "scale": {"domain": ["Experimental", "Fitted curve"], "range": ["#555555", "#ff8c1a"]},
      "legend": {"title": null, "orient": "none", "legendX": 134, "legendY": 59.4, "labelOffset": 1.7,
       "encode": {"symbols": {"update": {"shape": {"signal": "datum.value === 'Experimental' ? 'circle' : 'stroke'"}, "size": {"signal": "datum.value === 'Experimental' ? 22 : 400"}, "stroke": {"signal": "datum.value === 'Experimental' ? '#555555' : '#ff8c1a'"}, "strokeWidth": {"signal": "datum.value === 'Experimental' ? 1 : 3"}, "fill": {"value": "transparent"}, "opacity": {"value": 1}}}}}}}},
   {"data": {"name": "c"}, "mark": {"type": "line", "color": "#2b2bd6", "strokeWidth": 1.5},
    "encoding": {"x": {"field": "x", "type": "quantitative", "axis": null}, "y": {"field": "f", "type": "quantitative"}}},
   {"data": {"name": "ce"}, "mark": {"type": "point", "filled": false, "size": 18, "strokeWidth": 0.8, "opacity": 1},
    "encoding": {"x": {"field": "x", "type": "quantitative", "axis": null}, "y": {"field": "y", "type": "quantitative"}, "color": {"datum": "Experimental", "type": "nominal"}}},
   {"data": {"values": [{"x": 399.1, "y": 89.8, "x2": 399.68, "y2": 87.6}]}, "mark": {"type": "rule", "color": "#2424e0", "strokeWidth": 1.2},
    "encoding": {"x": {"field": "x", "type": "quantitative", "axis": null}, "y": {"field": "y", "type": "quantitative"}, "x2": {"field": "x2"}, "y2": {"field": "y2"}}},
   {"data": {"values": [{"x": 397.85, "y": 92.1, "t": "N\n400.1 eV"}]}, "mark": {"type": "text", "color": "#2424e0", "fontSize": 9.5, "lineBreak": "\n", "lineHeight": 12, "align": "center", "baseline": "middle"},
    "encoding": {"x": {"field": "x", "type": "quantitative", "axis": null}, "y": {"field": "y", "type": "quantitative"}, "text": {"field": "t"}}},
   {"data": {"values": [{"x": 392.51, "y": 92.7, "t": "N 1s"}]}, "mark": {"type": "text", "color": "#000", "fontSize": 11, "align": "left", "baseline": "middle"},
    "encoding": {"x": {"field": "x", "type": "quantitative", "axis": null}, "y": {"field": "y", "type": "quantitative"}, "text": {"field": "t"}}}
  ]
 }
]
}
